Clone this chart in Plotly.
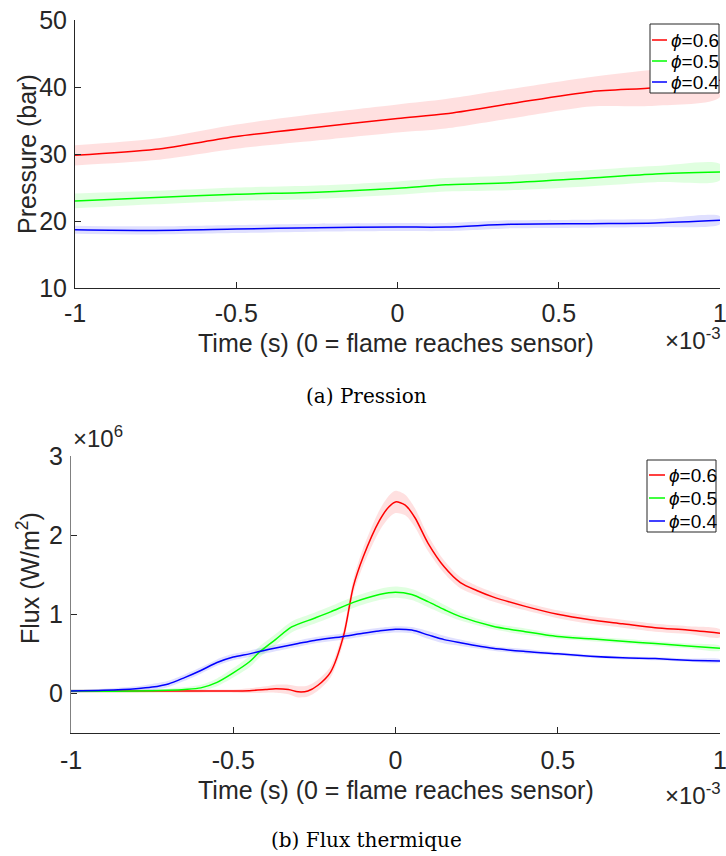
import plotly.graph_objects as go

# ---------------- data ----------------
# Pressure (top), time in units of 1e-3 s
t_p = [-1.0, -0.75, -0.5, -0.25, 0.0, 0.15, 0.35, 0.6, 0.8, 1.0]
p_06 = [29.8, 30.7, 32.6, 34.0, 35.3, 36.0, 37.5, 39.3, 39.9, 41.0]
p_06_err = [1.5, 1.6, 1.8, 2.0, 2.1, 2.2, 2.2, 2.2, 2.7, 2.5]
p_05 = [23.0, 23.5, 24.0, 24.3, 24.9, 25.4, 25.7, 26.4, 27.0, 27.3]
p_05_err = [1.1, 1.0, 1.0, 1.0, 1.0, 1.0, 1.1, 1.2, 1.2, 1.2]
p_04 = [18.7, 18.6, 18.8, 19.0, 19.1, 19.1, 19.5, 19.6, 19.7, 20.1]
p_04_err = [0.6, 0.6, 0.6, 0.6, 0.6, 0.6, 0.6, 0.6, 0.6, 0.6]

# Heat flux (bottom), values in units of 1e6 W/m^2
t_f06 = [-1.0, -0.8, -0.6, -0.5, -0.45, -0.4, -0.37, -0.33, -0.3, -0.27, -0.24, -0.2,
         -0.16, -0.13, -0.1, -0.05, -0.02, 0.0, 0.03, 0.06, 0.1, 0.15, 0.2, 0.25, 0.3,
         0.4, 0.5, 0.6, 0.7, 0.8, 0.9, 1.0]
f_06 = [0.03, 0.03, 0.03, 0.03, 0.035, 0.05, 0.06, 0.05, 0.02, 0.03, 0.1, 0.27,
        0.73, 1.35, 1.72, 2.18, 2.36, 2.42, 2.38, 2.22, 1.9, 1.6, 1.4, 1.3, 1.22,
        1.1, 1.0, 0.93, 0.88, 0.83, 0.8, 0.76]
f_06_err = [0.02, 0.02, 0.02, 0.02, 0.03, 0.04, 0.05, 0.06, 0.07, 0.07, 0.07, 0.07,
            0.08, 0.09, 0.11, 0.13, 0.14, 0.14, 0.13, 0.12, 0.1, 0.08, 0.07, 0.06, 0.06,
            0.05, 0.05, 0.05, 0.05, 0.05, 0.05, 0.05]

t_f05 = [-1.0, -0.8, -0.7, -0.65, -0.6, -0.55, -0.5, -0.45, -0.42, -0.37, -0.32, -0.25,
         -0.2, -0.13, -0.05, 0.0, 0.05, 0.1, 0.15, 0.2, 0.3, 0.4, 0.5, 0.6, 0.7, 0.8,
         0.9, 1.0]
f_05 = [0.03, 0.03, 0.04, 0.05, 0.07, 0.14, 0.26, 0.4, 0.52, 0.68, 0.84, 0.95,
        1.03, 1.15, 1.25, 1.28, 1.25, 1.16, 1.06, 0.97, 0.85, 0.78, 0.72, 0.69, 0.66, 0.63,
        0.6, 0.57]
f_05_err = [0.02, 0.02, 0.02, 0.03, 0.04, 0.05, 0.06, 0.07, 0.07, 0.07, 0.07, 0.07,
            0.07, 0.07, 0.07, 0.07, 0.07, 0.07, 0.06, 0.05, 0.04, 0.04, 0.03, 0.03, 0.03, 0.03,
            0.03, 0.03]

t_f04 = [-1.0, -0.9, -0.8, -0.75, -0.7, -0.65, -0.6, -0.55, -0.5, -0.45, -0.42, -0.35,
         -0.3, -0.25, -0.16, -0.1, -0.05, 0.0, 0.05, 0.1, 0.15, 0.2, 0.3, 0.4, 0.5, 0.6,
         0.7, 0.8, 0.9, 1.0]
f_04 = [0.03, 0.04, 0.06, 0.08, 0.12, 0.2, 0.29, 0.39, 0.46, 0.5, 0.53, 0.59,
        0.63, 0.67, 0.72, 0.76, 0.79, 0.81, 0.8, 0.74, 0.68, 0.64, 0.57, 0.53, 0.5, 0.47,
        0.45, 0.44, 0.42, 0.41]
f_04_err = [0.02, 0.02, 0.03, 0.04, 0.04, 0.04, 0.04, 0.04, 0.04, 0.04, 0.04, 0.04,
            0.04, 0.04, 0.04, 0.04, 0.04, 0.04, 0.04, 0.05, 0.05, 0.04, 0.03, 0.03, 0.02, 0.02,
            0.02, 0.02, 0.02, 0.02]

labels = ["<i>ϕ</i>=0.6", "<i>ϕ</i>=0.5", "<i>ϕ</i>=0.4"]
line_colors = ["#FF0000", "#00FF00", "#0000FF"]
band_colors = ["rgba(255,0,0,0.12)", "rgba(0,255,0,0.12)", "rgba(0,0,255,0.12)"]

x_ticks = [-1, -0.5, 0, 0.5, 1]
x_ticktext = ["-1", "-0.5", "0", "0.5", "1"]
p_ticks = [10, 20, 30, 40, 50]
f_ticks = [0, 1, 2, 3]

FONT = "Liberation Sans, Arial, sans-serif"
TXT = "#262626"

fig = go.Figure()

def add_band(x, y, err, idx, xa, ya):
    up = [a + e for a, e in zip(y, err)]
    lo = [a - e for a, e in zip(y, err)]
    fig.add_trace(go.Scatter(
        x=list(x) + list(x)[::-1], y=up + lo[::-1], fill="toself",
        fillcolor=band_colors[idx], line=dict(width=0, shape="spline", smoothing=0.8),
        mode="lines", hoverinfo="skip", showlegend=False, xaxis=xa, yaxis=ya))

def add_line(x, y, idx, xa, ya):
    fig.add_trace(go.Scatter(
        x=x, y=y, mode="lines", name=labels[idx], showlegend=False,
        line=dict(color=line_colors[idx], width=1.5, shape="spline", smoothing=0.8),
        xaxis=xa, yaxis=ya))

top = [(t_p, p_06, p_06_err), (t_p, p_05, p_05_err), (t_p, p_04, p_04_err)]
bot = [(t_f06, f_06, f_06_err), (t_f05, f_05, f_05_err), (t_f04, f_04, f_04_err)]

for i, (x, y, e) in enumerate(top):
    add_band(x, y, e, i, "x", "y")
for i, (x, y, e) in enumerate(bot):
    add_band(x, y, e, i, "x2", "y2")
for i, (x, y, e) in enumerate(top):
    add_line(x, y, i, "x", "y")
for i, (x, y, e) in enumerate(bot):
    add_line(x, y, i, "x2", "y2")

# the page body margin is removed (post_script), so positions below are window pixels
W, H = 726, 856
def px(xp):
    return xp / W
def py(yp):
    return 1 - yp / H

axis_common = dict(showline=True, linecolor=TXT, linewidth=1, ticks="inside",
                   ticklen=6, tickcolor=TXT, showgrid=False, zeroline=False,
                   automargin=False, ticklabeloverflow="allow",
                   tickfont=dict(family=FONT, size=25, color=TXT), mirror=False)

fig.update_layout(
    width=W, height=H,
    margin=dict(l=0, r=0, t=0, b=0, autoexpand=False),
    paper_bgcolor="white", plot_bgcolor="white",
    showlegend=False,
    xaxis=dict(domain=[px(75), px(720)], range=[-1, 1], tickvals=x_ticks,
               ticktext=x_ticktext, anchor="y", ticklabelstandoff=3, **axis_common),
    yaxis=dict(domain=[py(288), py(20)], range=[10, 50], tickvals=p_ticks,
               anchor="x", ticklabelstandoff=2, **axis_common),
    xaxis2=dict(domain=[px(71), px(720)], range=[-1, 1], tickvals=x_ticks,
                ticktext=x_ticktext, anchor="y2", ticklabelstandoff=5, **axis_common),
    yaxis2=dict(domain=[py(733), py(456)], range=[-0.5, 3], tickvals=f_ticks,
                anchor="x2", ticklabelstandoff=2, **axis_common),
)
fig.layout.yaxis2.linecolor = "#808080"

# ---- legends (drawn as boxes, sample lines and labels) ----
legend_boxes = [
    dict(x0=650, x1=719, y0=24, y1=93, rows=[40, 61, 82], lx0=652, lx1=667, tx=669),
    dict(x0=647, x1=716, y0=460, y1=532, rows=[475, 498, 521], lx0=649, lx1=665, tx=667),
]
for lb in legend_boxes:
    fig.add_shape(type="rect", xref="paper", yref="paper",
                  x0=px(lb["x0"]), x1=px(lb["x1"]), y0=py(lb["y1"]), y1=py(lb["y0"]),
                  line=dict(color=TXT, width=1), fillcolor="white", layer="above")
    for i, ry in enumerate(lb["rows"]):
        fig.add_shape(type="line", xref="paper", yref="paper",
                      x0=px(lb["lx0"]), x1=px(lb["lx1"]), y0=py(ry), y1=py(ry),
                      line=dict(color=line_colors[i], width=1.5), layer="above")
        fig.add_annotation(text=labels[i], x=px(lb["tx"]), y=py(ry), xref="paper",
                           yref="paper", showarrow=False, xanchor="left", yanchor="middle",
                           font=dict(family=FONT, size=19, color="black"))

annots = [
    dict(text="Pressure (bar)", x=27, y=154, textangle=-90, size=25, xa="center"),
    dict(text="Flux (W/m<sup>2</sup>)", x=28, y=578, textangle=-90, size=25, xa="center"),
    dict(text="Time (s) (0 = flame reaches sensor)", x=396, y=343, size=25, xa="center"),
    dict(text="Time (s) (0 = flame reaches sensor)", x=396, y=790, size=25, xa="center"),
    dict(text="×10<sup>-3</sup>", x=723, y=339, size=24, xa="right"),
    dict(text="×10<sup>-3</sup>", x=723, y=794, size=24, xa="right"),
    dict(text="×10<sup>6</sup>", x=71, y=437, size=24, xa="left"),
]
for a in annots:
    fig.add_annotation(text=a["text"], x=px(a["x"]), y=py(a["y"]), xref="paper", yref="paper",
                       showarrow=False, textangle=a.get("textangle", 0),
                       font=dict(family=FONT, size=a["size"], color=TXT),
                       xanchor=a["xa"], yanchor="middle")

for text, yy in [("(a) Pression", 396), ("(b) Flux thermique", 840)]:
    fig.add_annotation(text=text, x=px(367), y=py(yy), xref="paper", yref="paper",
                       showarrow=False,
                       font=dict(family="DejaVu Serif, Liberation Serif, serif", size=20, color="black"),
                       xanchor="center", yanchor="middle")

fig.write_html("out.html", config={"displayModeBar": False},
               post_script="document.body.style.margin='0px';document.body.style.overflow='hidden';")
